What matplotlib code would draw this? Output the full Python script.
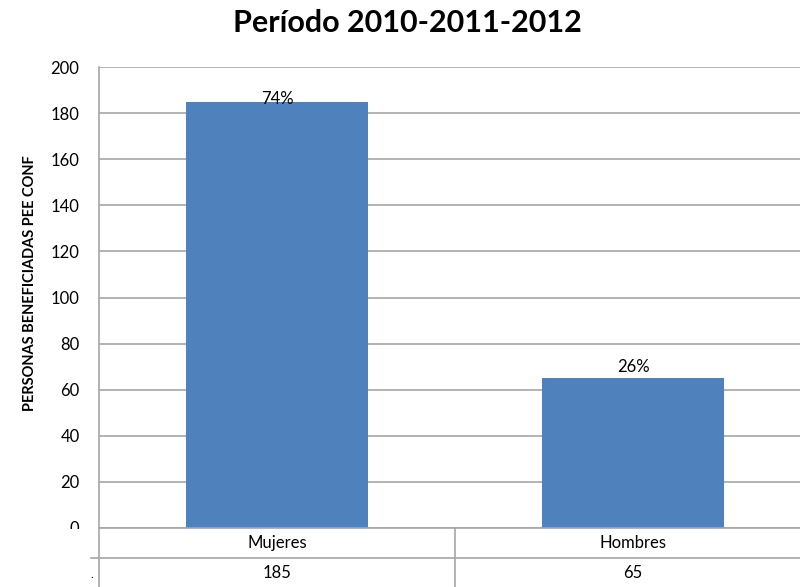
import matplotlib
matplotlib.use("Agg")
import matplotlib.pyplot as plt
from matplotlib.lines import Line2D
from matplotlib.patches import Rectangle

categories = ["Mujeres", "Hombres"]
values = [185, 65]
pct_labels = ["74%", "26%"]
yticks = [0, 20, 40, 60, 80, 100, 120, 140, 160, 180, 200]

W, H = 800, 587
plt.rcParams['font.family'] = ['Lato', 'DejaVu Sans']
fig = plt.figure(figsize=(W / 100, H / 100), dpi=100)

def fx(px):
    return px / W

def fy(py):
    return 1 - py / H

ax_l, ax_r, ax_t, ax_b = 99, 811, 67, 528
ax = fig.add_axes([fx(ax_l), fy(ax_b), fx(ax_r - ax_l), (ax_b - ax_t) / H])

bar_color = "#4F81BD"
grid_color = "#A6A6A6"
fs = 12
x = list(range(len(categories)))
bars = ax.bar(x, values, width=0.51, color=bar_color, zorder=3)
ax.set_xlim(-0.5, len(categories) - 0.5)
ax.set_ylim(0, 200)
ax.set_yticks(yticks)
ax.set_yticklabels([str(t) for t in yticks], fontsize=fs, color="#000000")
ax.tick_params(axis='y', length=0, pad=14)
ax.set_xticks([])
ax.yaxis.grid(True, color=grid_color, linewidth=1.2, zorder=0)
for s in ["top", "right", "bottom"]:
    ax.spines[s].set_visible(False)
ax.spines["left"].set_color(grid_color)
ax.spines["left"].set_linewidth(1.2)

offsets = [-1.5, 4.3]
for b, lab, off in zip(bars, pct_labels, offsets):
    ax.annotate(lab, (b.get_x() + b.get_width() / 2, b.get_height()),
                xytext=(0, off), textcoords="offset points",
                ha="center", va="baseline", fontsize=fs, zorder=4)

# cover lower part of the "0" tick label
fig.add_artist(Rectangle((0, 0), fx(ax_l - 1), fy(529), transform=fig.transFigure,
                         facecolor="white", edgecolor="none", zorder=5))

# data table
row1_top, row_mid, row2_bot = 528, 558, 600
lw = 1.2
fig.add_artist(Line2D([fx(ax_l), fx(ax_r)], [fy(row1_top)] * 2, color=grid_color, lw=lw, zorder=6))
fig.add_artist(Line2D([fx(91), fx(ax_r)], [fy(row_mid)] * 2, color=grid_color, lw=lw, zorder=6))
fig.add_artist(Line2D([fx(ax_l)] * 2, [fy(row1_top), fy(row2_bot)], color=grid_color, lw=lw, zorder=6))
ncat = len(categories)
cell_w = (ax_r - ax_l) / ncat
for i in range(1, ncat):
    xv = ax_l + i * cell_w
    fig.add_artist(Line2D([fx(xv)] * 2, [fy(row1_top), fy(row2_bot)], color=grid_color, lw=lw, zorder=6))
for i, (c, v) in enumerate(zip(categories, values)):
    xc = ax_l + (i + 0.5) * cell_w
    fig.text(fx(xc), fy(543), c, ha="center", va="center", fontsize=fs, zorder=7)
    fig.text(fx(xc), fy(573), str(v), ha="center", va="center", fontsize=fs, zorder=7)
fig.text(fx(92), fy(574), ".", ha="center", va="center", fontsize=8, zorder=7)

fig.text(fx(407), fy(23), "Período 2010-2011-2012", ha="center", va="center",
         fontsize=22, fontweight="bold")
fig.text(fx(30), fy(283), "PERSONAS BENEFICIADAS PEE CONF", rotation=90,
         ha="center", va="center", fontsize=10.5, fontweight="bold")

fig.savefig("out.png", dpi=100)
